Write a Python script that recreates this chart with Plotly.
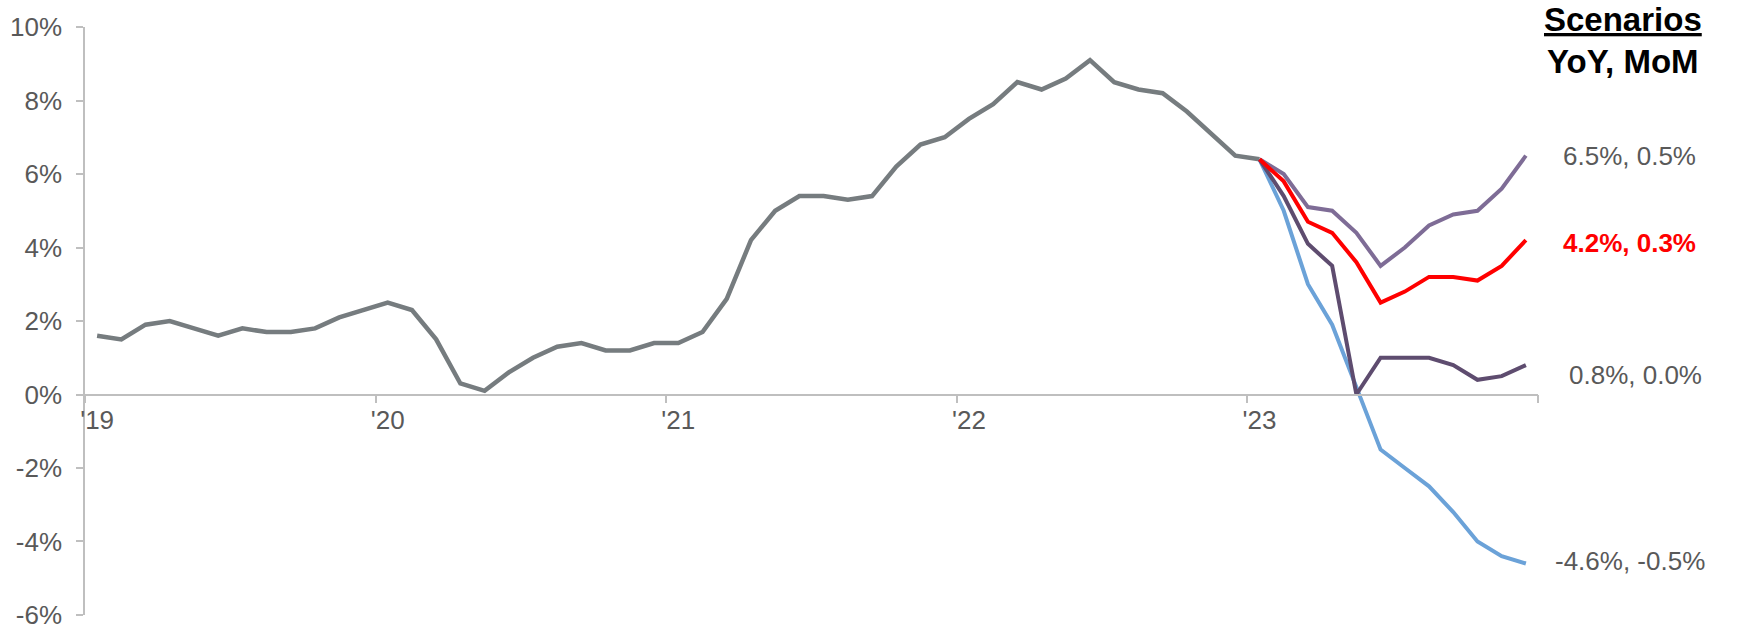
import plotly.graph_objects as go

# ---- data ----
hist_cpi = [1.6, 1.5, 1.9, 2.0, 1.8, 1.6, 1.8, 1.7, 1.7, 1.8, 2.1, 2.3,
            2.5, 2.3, 1.5, 0.3, 0.1, 0.6, 1.0, 1.3, 1.4, 1.2, 1.2, 1.4,
            1.4, 1.7, 2.6, 4.2, 5.0, 5.4, 5.4, 5.3, 5.4, 6.2, 6.8, 7.0,
            7.5, 7.9, 8.5, 8.3, 8.6, 9.1, 8.5, 8.3, 8.2, 7.7, 7.1, 6.5,
            6.4]
scen_high = [6.4, 6.0, 5.1, 5.0, 4.4, 3.5, 4.0, 4.6, 4.9, 5.0, 5.6, 6.5]
scen_base = [6.4, 5.8, 4.7, 4.4, 3.6, 2.5, 2.8, 3.2, 3.2, 3.1, 3.5, 4.2]
scen_zero = [6.4, 5.4, 4.1, 3.5, 0.0, 1.0, 1.0, 1.0, 0.8, 0.4, 0.5, 0.8]
scen_low = [6.4, 5.0, 3.0, 1.9, 0.2, -1.5, -2.0, -2.5, -3.2, -4.0, -4.4, -4.6]

scen_labels = ["6.5%, 0.5%", "4.2%, 0.3%", "0.8%, 0.0%", "-4.6%, -0.5%"]
year_ticks = ["'19", "'20", "'21", "'22", "'23"]
y_tick_vals = [-6, -4, -2, 0, 2, 4, 6, 8, 10]
y_tick_text = ["-6%", "-4%", "-2%", "0%", "2%", "4%", "6%", "8%", "10%"]

hist_x = list(range(len(hist_cpi)))
scen_x = list(range(len(hist_cpi) - 1, len(hist_cpi) - 1 + len(scen_base)))

FONT = "Arial, 'Liberation Sans', sans-serif"
AXIS_COLOR = "#BFBFBF"
TEXT_COLOR = "#595959"

fig = go.Figure()
fig.add_trace(go.Scatter(x=hist_x, y=hist_cpi, mode="lines",
                         line=dict(color="#767C7F", width=4.5), hoverinfo="skip"))
fig.add_trace(go.Scatter(x=scen_x, y=scen_low, mode="lines",
                         line=dict(color="#6BA2D8", width=4)))
fig.add_trace(go.Scatter(x=scen_x, y=scen_zero, mode="lines",
                         line=dict(color="#5E4C6F", width=4)))
fig.add_trace(go.Scatter(x=scen_x, y=scen_high, mode="lines",
                         line=dict(color="#7E6C96", width=4)))
fig.add_trace(go.Scatter(x=scen_x, y=scen_base, mode="lines",
                         line=dict(color="#FF0000", width=4)))

n_months = len(hist_cpi) - 1 + len(scen_base)

fig.update_layout(
    width=1741, height=630,
    margin=dict(l=85, r=203, t=27, b=15, autoexpand=False),
    plot_bgcolor="white", paper_bgcolor="white",
    showlegend=False,
    font=dict(family=FONT, size=26, color=TEXT_COLOR),
    xaxis=dict(
        range=[-0.5, n_months - 0.5],
        tickmode="array",
        tickvals=[i * 12 for i in range(len(year_ticks))],
        ticktext=year_ticks,
        ticks="", ticklabelstandoff=3,
        showgrid=False, zeroline=False, automargin=False,
        showline=True, linecolor=AXIS_COLOR, linewidth=1.5,
        anchor="free", position=6 / 16,
        minor=dict(tickmode="array",
                   tickvals=[i * 12 - 0.5 for i in range(len(year_ticks) + 1)],
                   ticks="outside", ticklen=8, tickcolor=AXIS_COLOR,
                   tickwidth=1.5, showgrid=False),
        tickfont=dict(size=26, color=TEXT_COLOR),
    ),
    yaxis=dict(
        range=[-6.0005, 10.0005],
        tickmode="array", tickvals=y_tick_vals, ticktext=y_tick_text,
        ticks="outside", ticklen=7, tickcolor=AXIS_COLOR, tickwidth=1.5,
        ticklabelstandoff=9, ticklabeloverflow="allow", automargin=False,
        showline=True, linecolor=AXIS_COLOR, linewidth=1.5,
        showgrid=False, zeroline=False,
        tickfont=dict(size=26, color=TEXT_COLOR),
    ),
)

# header
fig.add_annotation(text="<b><u>Scenarios</u></b>", xref="paper", yref="paper",
                   x=1.0585, y=1.0136, xanchor="center", yanchor="middle",
                   showarrow=False, font=dict(size=33, color="black", family=FONT))
fig.add_annotation(text="<b>YoY, MoM</b>", xref="paper", yref="paper",
                   x=1.0585, y=0.942, xanchor="center", yanchor="middle",
                   showarrow=False, font=dict(size=33, color="black", family=FONT))

# end labels
ends = [scen_high[-1], scen_base[-1], scen_zero[-1], scen_low[-1]]
shifts = [0, -3, -10, 3]
xs = [1.0633, 1.0633, 1.0674, 1.0633]
for txt, yv, sh, xv in zip(scen_labels, ends, shifts, xs):
    is_base = txt == scen_labels[1]
    fig.add_annotation(
        text=f"<b>{txt}</b>" if is_base else txt,
        xref="paper", yref="y", x=xv, y=yv, yshift=sh,
        xanchor="center", yanchor="middle", showarrow=False,
        font=dict(size=26, color="#FF0000" if is_base else TEXT_COLOR, family=FONT))

fig.write_html("out.html")
